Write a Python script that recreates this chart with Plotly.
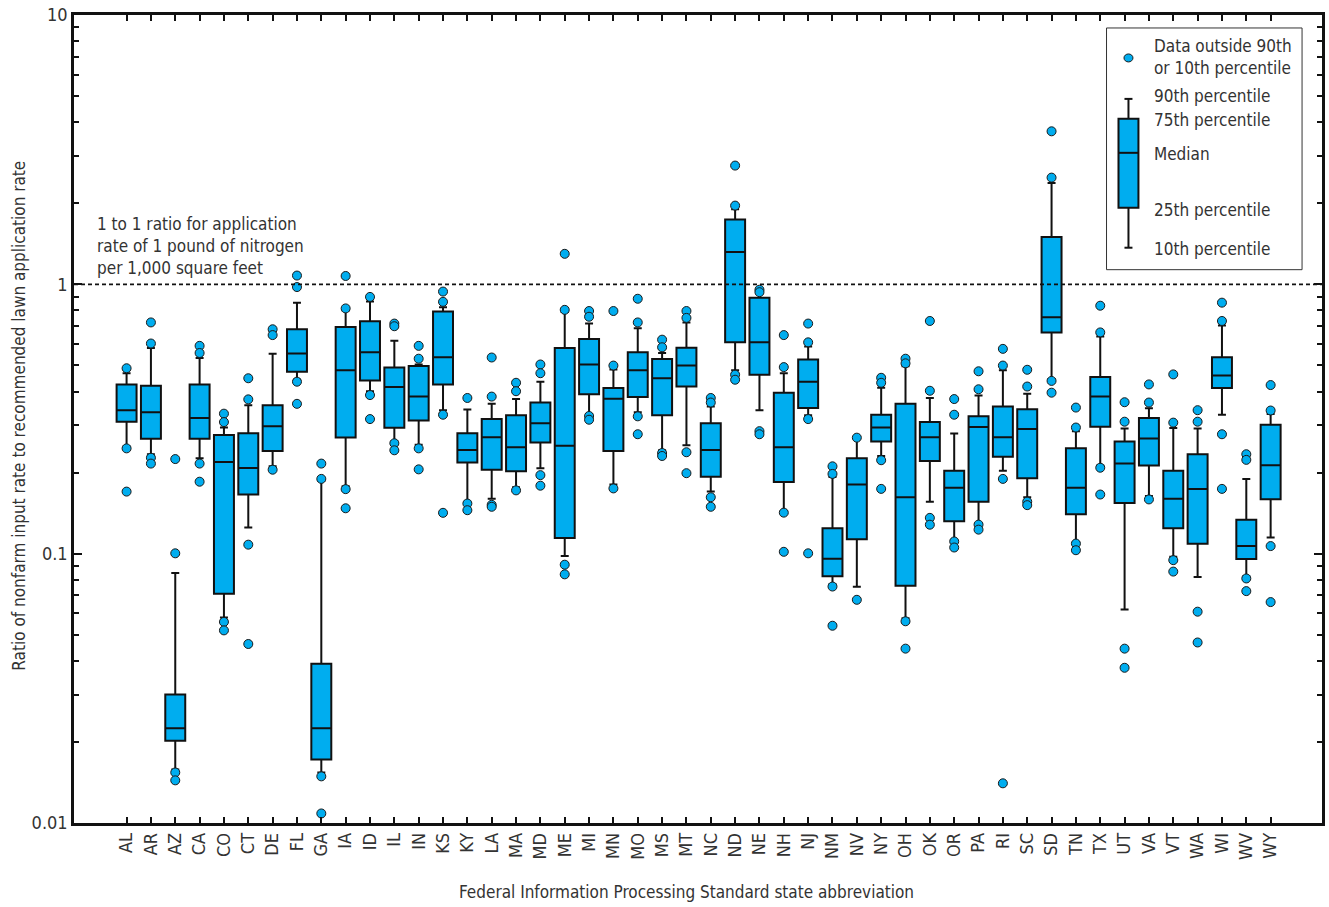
import plotly.graph_objects as go

states = ["AL", "AR", "AZ", "CA", "CO", "CT", "DE", "FL", "GA", "IA", "ID", "IL", "IN", "KS",
          "KY", "LA", "MA", "MD", "ME", "MI", "MN", "MO", "MS", "MT", "NC", "ND", "NE", "NH",
          "NJ", "NM", "NV", "NY", "OH", "OK", "OR", "PA", "RI", "SC", "SD", "TN", "TX", "UT",
          "VA", "VT", "WA", "WI", "WV", "WY"]

p10 = [0.25, 0.234, 0.0158, 0.226, 0.058, 0.125, 0.211, 0.443, 0.0154, 0.178, 0.401, 0.261,
       0.254, 0.341, 0.1548, 0.160, 0.1764, 0.2076, 0.098, 0.330, 0.1805, 0.335, 0.242, 0.2525,
       0.170, 0.480, 0.341, 0.1437, 0.3267, 0.077, 0.0753, 0.2305, 0.0576, 0.156, 0.1124,
       0.1294, 0.203, 0.162, 0.445, 0.1106, 0.2124, 0.0621, 0.1636, 0.0973, 0.082, 0.328,
       0.0825, 0.1147]
q1 = [0.309, 0.267, 0.0202, 0.267, 0.071, 0.166, 0.2405, 0.474, 0.0172, 0.270, 0.4396, 0.2934,
      0.312, 0.425, 0.218, 0.205, 0.2022, 0.2584, 0.1143, 0.391, 0.2405, 0.382, 0.3267, 0.4174,
      0.1932, 0.609, 0.4617, 0.1846, 0.3475, 0.0825, 0.1132, 0.261, 0.076, 0.221, 0.132,
      0.156, 0.229, 0.1907, 0.663, 0.140, 0.296, 0.1543, 0.2124, 0.1244, 0.1088, 0.412,
      0.0955, 0.1594]
median = [0.341, 0.335, 0.0225, 0.319, 0.219, 0.208, 0.297, 0.554, 0.0225, 0.480, 0.560, 0.416,
          0.383, 0.536, 0.2427, 0.2704, 0.2484, 0.305, 0.2517, 0.504, 0.376, 0.480, 0.448,
          0.4993, 0.2427, 1.318, 0.609, 0.2484, 0.435, 0.0958, 0.1805, 0.294, 0.162, 0.2704,
          0.1758, 0.2953, 0.2704, 0.2905, 0.755, 0.1758, 0.3834, 0.216, 0.2677, 0.160, 0.174,
          0.4585, 0.1067, 0.213]
q3 = [0.425, 0.420, 0.0300, 0.425, 0.276, 0.280, 0.356, 0.681, 0.039, 0.694, 0.729, 0.491,
      0.4975, 0.793, 0.280, 0.316, 0.3267, 0.364, 0.580, 0.627, 0.412, 0.560, 0.528, 0.582,
      0.305, 1.74, 0.892, 0.396, 0.526, 0.1244, 0.226, 0.328, 0.360, 0.308, 0.203, 0.3235,
      0.352, 0.344, 1.50, 0.246, 0.4527, 0.261, 0.319, 0.203, 0.234, 0.5364, 0.1337, 0.301]
p90 = [0.468, 0.580, 0.0847, 0.533, 0.294, 0.356, 0.552, 0.855, 0.187, 0.80, 0.864, 0.617,
       0.504, 0.822, 0.343, 0.360, 0.375, 0.435, 0.79, 0.715, 0.483, 0.6874, 0.556, 0.722,
       0.352, 1.90, 0.93, 0.4677, 0.5877, 0.1926, 0.2666, 0.413, 0.496, 0.3785, 0.2793,
       0.387, 0.480, 0.392, 2.38, 0.285, 0.640, 0.2915, 0.3464, 0.2926, 0.2915, 0.703,
       0.1895, 0.330]
outliers = [
    [0.488, 0.246, 0.170],            # AL
    [0.722, 0.603, 0.227, 0.216],     # AR
    [0.2245, 0.1003, 0.0154, 0.0144], # AZ
    [0.591, 0.556, 0.216, 0.185],     # CA
    [0.331, 0.308, 0.0558, 0.0519],   # CO
    [0.448, 0.374, 0.108, 0.0462],    # CT
    [0.681, 0.648, 0.205],            # DE
    [1.078, 0.977, 0.435, 0.360],     # FL
    [0.216, 0.1895, 0.0149, 0.01085], # GA
    [1.074, 0.814, 0.1736, 0.1474],   # IA
    [0.898, 0.388, 0.316],            # ID
    [0.715, 0.699, 0.257, 0.242],     # IL
    [0.591, 0.5295, 0.246, 0.2056],   # IN
    [0.940, 0.861, 0.328, 0.1418],    # KS
    [0.3785, 0.1535, 0.145],          # KY
    [0.535, 0.383, 0.1518, 0.1493],   # LA
    [0.431, 0.401, 0.1718],           # MA
    [0.504, 0.4677, 0.1957, 0.1788],  # MD
    [1.298, 0.804, 0.091, 0.0838],    # ME
    [0.796, 0.758, 0.3245, 0.3143],   # MI
    [0.796, 0.4993, 0.1747],          # MN
    [0.884, 0.722, 0.3235, 0.2776],   # MO
    [0.623, 0.5838, 0.2365, 0.2305],  # MS
    [0.796, 0.7506, 0.238, 0.199],    # MT
    [0.3785, 0.364, 0.162, 0.1493],   # NC
    [2.76, 1.96, 0.4617, 0.4424],     # ND
    [0.955, 0.935, 0.285, 0.2776],    # NE
    [0.648, 0.4928, 0.142, 0.1016],   # NH
    [0.715, 0.609, 0.316, 0.1003],    # NJ
    [0.211, 0.1977, 0.0755, 0.054],   # NM
    [0.2696, 0.0674],                 # NV
    [0.4498, 0.431, 0.2223, 0.174],   # NY
    [0.5295, 0.509, 0.0561, 0.0444],  # OH
    [0.731, 0.4026, 0.1358, 0.1281],  # OK
    [0.375, 0.328, 0.111, 0.1054],    # OR
    [0.4755, 0.4077, 0.1282, 0.1228], # PA
    [0.576, 0.4993, 0.1895, 0.01404], # RI
    [0.4817, 0.4174, 0.156, 0.1514],  # SC
    [3.70, 2.49, 0.438, 0.396],       # SD
    [0.3487, 0.294, 0.109, 0.103],    # TN
    [0.833, 0.663, 0.2085, 0.1658],   # TX
    [0.365, 0.309, 0.0444, 0.0377],   # UT
    [0.425, 0.364, 0.159],            # VA
    [0.463, 0.3066, 0.0946, 0.0858],  # VT
    [0.341, 0.309, 0.0609, 0.0468],   # WA
    [0.855, 0.731, 0.2776, 0.174],    # WI
    [0.234, 0.223, 0.0809, 0.0726],   # WV
    [0.4227, 0.340, 0.1067, 0.0661],  # WY
]

y_tickvals = [0.01, 0.1, 1, 10]
y_ticktext = ["0.01", "0.1", "1", "10"]
reference_ratio = 1

legend_labels = ["Data outside 90th<br>or 10th percentile", "90th percentile", "75th percentile",
                 "Median", "25th percentile", "10th percentile"]

FONT = "DejaVu Sans Condensed, Liberation Sans Narrow, Roboto, sans-serif"
BLUE = "#00ADEF"
TXT = "#333333"

out_x = [s for s, vals in zip(states, outliers) for _ in vals]
out_y = [v for vals in outliers for v in vals]

fig = go.Figure()

# 1:1 reference line spanning the full plot width (hidden overlay x axis)
fig.add_trace(go.Scatter(x=[0, 1], y=[reference_ratio, reference_ratio], xaxis="x2", yaxis="y",
                         mode="lines", line=dict(color="#111", width=1.6, dash="4px,3px"),
                         hoverinfo="skip", showlegend=False))

fig.add_trace(go.Box(x=states, q1=q1, median=median, q3=q3, lowerfence=p10, upperfence=p90,
                     boxpoints=False, fillcolor=BLUE, line=dict(color="#111", width=2),
                     width=0.82, whiskerwidth=0.4, showlegend=False))

fig.add_trace(go.Scatter(x=out_x, y=out_y, mode="markers", showlegend=False,
                         marker=dict(size=9, color=BLUE, line=dict(color="#1a1a1a", width=1))))

L, R, T, B = 74, 1325, 14, 823
W, H = 1329, 907


def px(xp):
    return (xp - L) / (R - L)


def py(yp):
    return (B - yp) / (B - T)


shapes = []
# legend frame
shapes.append(dict(type="rect", xref="paper", yref="paper", x0=px(1109), x1=px(1305),
                   y0=py(269), y1=py(27), line=dict(color="#333", width=1), fillcolor="white",
                   layer="above"))
# legend glyph
cx = 1131
shapes += [
    dict(type="line", xref="paper", yref="paper", x0=px(cx), x1=px(cx), y0=py(98), y1=py(118),
         line=dict(color="#111", width=2), layer="above"),
    dict(type="line", xref="paper", yref="paper", x0=px(cx), x1=px(cx), y0=py(207), y1=py(247),
         line=dict(color="#111", width=2), layer="above"),
    dict(type="line", xref="paper", yref="paper", x0=px(cx - 4), x1=px(cx + 4), y0=py(98),
         y1=py(98), line=dict(color="#111", width=2), layer="above"),
    dict(type="line", xref="paper", yref="paper", x0=px(cx - 4), x1=px(cx + 4), y0=py(247),
         y1=py(247), line=dict(color="#111", width=2), layer="above"),
    dict(type="rect", xref="paper", yref="paper", x0=px(cx - 10), x1=px(cx + 10), y0=py(207),
         y1=py(118), line=dict(color="#111", width=2), fillcolor=BLUE, layer="above"),
    dict(type="line", xref="paper", yref="paper", x0=px(cx - 10), x1=px(cx + 10), y0=py(152),
         y1=py(152), line=dict(color="#111", width=2), layer="above"),
    dict(type="circle", xref="paper", yref="paper", x0=px(cx - 4.5), x1=px(cx + 4.5),
         y0=py(61), y1=py(53), line=dict(color="#1a1a1a", width=1), fillcolor=BLUE,
         layer="above"),
]

annotations = []
for lab, yy in zip(legend_labels, [56, 95, 119, 153, 209, 248]):
    annotations.append(dict(text=lab, xref="paper", yref="paper", x=px(1155), y=py(yy),
                            xanchor="left", yanchor="middle", showarrow=False, align="left",
                            font=dict(family=FONT, size=17, color=TXT)))

annotations.append(dict(text="1 to 1 ratio for application<br>rate of 1 pound of nitrogen<br>per 1,000 square feet",
                        xref="paper", yref="paper", x=px(95), y=py(245), xanchor="left",
                        yanchor="middle", showarrow=False, align="left",
                        font=dict(family=FONT, size=17, color=TXT)))
annotations.append(dict(text="Ratio of nonfarm input rate to recommended lawn application rate",
                        xref="paper", yref="paper", x=px(18), y=py(415), xanchor="center",
                        yanchor="middle", textangle=-90, showarrow=False,
                        font=dict(family=FONT, size=17, color=TXT)))
annotations.append(dict(text="Federal Information Processing Standard state abbreviation",
                        xref="paper", yref="paper", x=px(688), y=py(892), xanchor="center",
                        yanchor="middle", showarrow=False,
                        font=dict(family=FONT, size=17, color=TXT)))

fig.update_layout(
    width=W, height=H, margin=dict(l=L, r=W - R, t=T, b=H - B),
    plot_bgcolor="white", paper_bgcolor="white",
    font=dict(family=FONT, size=17, color=TXT),
    shapes=shapes, annotations=annotations,
    xaxis=dict(type="category", categoryorder="array", categoryarray=states,
               range=[-2.16, 49.11], tickangle=-90, ticks="inside", ticklen=6, tickwidth=1.5,
               tickcolor="#111", showline=True, linewidth=2.5, linecolor="#111", mirror="ticks",
               showgrid=False, zeroline=False, tickfont=dict(family=FONT, size=18, color=TXT)),
    xaxis2=dict(overlaying="x", range=[0, 1], visible=False, fixedrange=True),
    yaxis=dict(type="log", range=[-2, 1], tickvals=y_tickvals, ticktext=y_ticktext,
               ticks="inside", ticklen=8, tickwidth=1.5, tickcolor="#111", showline=True,
               linewidth=2.5, linecolor="#111", mirror="ticks", showgrid=False, zeroline=False,
               minor=dict(ticks="inside", ticklen=5, tickwidth=1.5, tickcolor="#111",
                          dtick="D1", showgrid=False),
               tickfont=dict(family=FONT, size=18, color=TXT)),
)

fig.write_html("out.html")
